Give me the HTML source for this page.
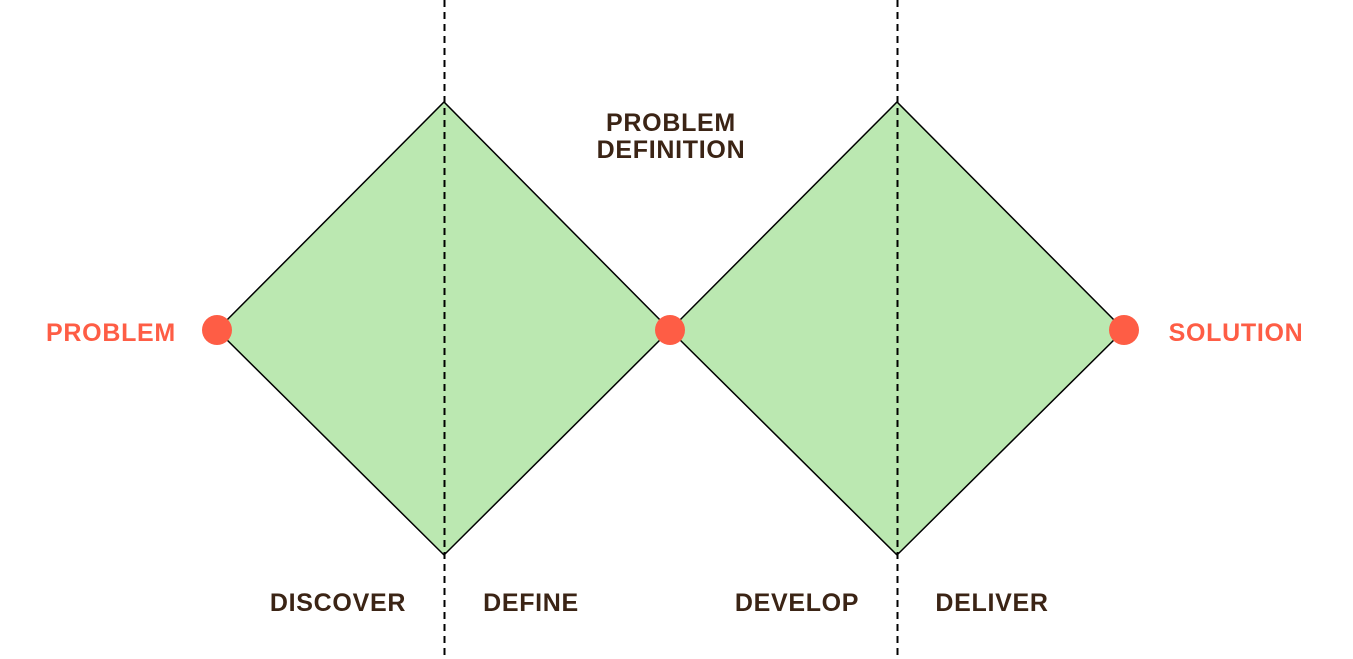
<!DOCTYPE html>
<html><head><style>
html,body{margin:0;padding:0;background:#fff;}
svg{display:block;}
text{font-family:"Liberation Sans",sans-serif;font-weight:bold;font-size:25px;letter-spacing:0.7px;}
</style></head><body>
<svg width="1353" height="659" viewBox="0 0 1353 659">
<polygon points="217,330 444,102 670,330 444,555" fill="#bbe8b1" stroke="#000" stroke-width="1.5"/>
<polygon points="670,330 897,102 1124,330 897,555" fill="#bbe8b1" stroke="#000" stroke-width="1.5"/>
<line x1="444.5" y1="0" x2="444.5" y2="659" stroke="#000" stroke-width="2" stroke-dasharray="7,5"/>
<line x1="897.5" y1="0" x2="897.5" y2="659" stroke="#000" stroke-width="2" stroke-dasharray="7,5"/>
<circle cx="217" cy="330" r="15" fill="#fe5d45"/>
<circle cx="670" cy="330" r="15" fill="#fe5d45"/>
<circle cx="1124" cy="330" r="15" fill="#fe5d45"/>
<g fill="#fe5d45">
<text x="111" y="341" text-anchor="middle">PROBLEM</text>
<text x="1236" y="341" text-anchor="middle">SOLUTION</text>
</g>
<g fill="#3b2415">
<text x="671" y="131" text-anchor="middle">PROBLEM</text>
<text x="671" y="158" text-anchor="middle">DEFINITION</text>
<text x="338" y="611" text-anchor="middle">DISCOVER</text>
<text x="531" y="611" text-anchor="middle">DEFINE</text>
<text x="797" y="611" text-anchor="middle">DEVELOP</text>
<text x="992" y="611" text-anchor="middle">DELIVER</text>
</g>
</svg>
</body></html>
